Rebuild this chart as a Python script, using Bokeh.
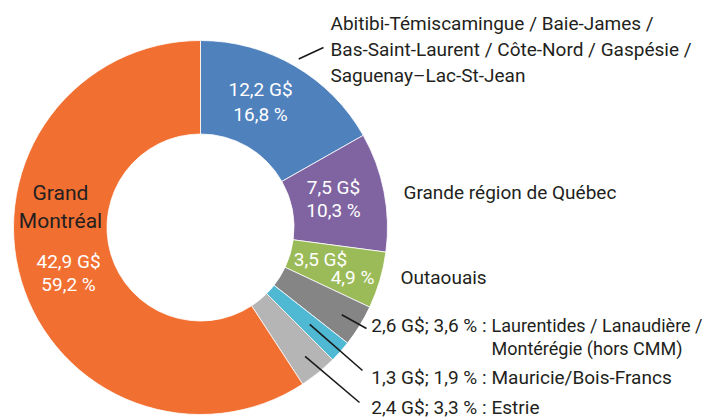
import math
from bokeh.plotting import figure
from bokeh.models import Range1d, ColumnDataSource
from bokeh.core.properties import value
from bokeh.embed import file_html
from bokeh.resources import INLINE

# ---- data ----
regions = [
    "Abitibi-Témiscamingue / Baie-James / Bas-Saint-Laurent / Côte-Nord / Gaspésie / Saguenay–Lac-St-Jean",
    "Grande région de Québec",
    "Outaouais",
    "Laurentides / Lanaudière / Montérégie (hors CMM)",
    "Mauricie/Bois-Francs",
    "Estrie",
    "Grand Montréal",
]
amounts = [12.2, 7.5, 3.5, 2.6, 1.3, 2.4, 42.9]   # G$
shares = [16.8, 10.3, 4.9, 3.6, 1.9, 3.3, 59.2]    # %
colors = ["#4F81BD", "#8064A2", "#9BBB59", "#858585", "#4FB8D3", "#B4B5B4", "#F26F32"]

W, H = 706, 418
CX, CY = 200, H - 227
R_IN, R_OUT = 93.5, 187

FONT = value("Roboto")
DARK = "#231F20"

def fr(v):
    return f"{v:.1f}".replace(".", ",")

p = figure(width=W, height=H, x_range=Range1d(0, W), y_range=Range1d(0, H),
           output_backend="svg", toolbar_location=None, min_border=0)
p.axis.visible = False
p.grid.visible = False
p.outline_line_color = None
p.background_fill_color = "white"

# wedge angles (clockwise from top)
starts, ends, mids = [], [], []
cum = 0.0
total = sum(shares)
for s in shares:
    a0 = math.pi / 2 - 2 * math.pi * cum / total
    a1 = math.pi / 2 - 2 * math.pi * (cum + s) / total
    starts.append(a1)
    ends.append(a0)
    mids.append((a0 + a1) / 2)
    cum += s

src = ColumnDataSource(dict(start=starts, end=ends, color=colors))
p.annular_wedge(x=CX, y=CY, inner_radius=R_IN, outer_radius=R_OUT,
                start_angle="start", end_angle="end", direction="anticlock",
                fill_color="color", line_color="white", line_width=0.8, source=src)

# inner white labels (amount / share), positions in picture px (top-left origin)
in_pos = [
    ((260, 89), (260, 114)),
    ((333, 187), (333, 210)),
    ((320, 259), (352, 277)),
    None, None, None,
    ((68, 261), (68, 284)),
]
for i, pos in enumerate(in_pos):
    if pos is None:
        continue
    (x1, y1), (x2, y2) = pos
    p.text(x=[x1, x2], y=[H - y1, H - y2],
           text=[f"{fr(amounts[i])} G$", f"{fr(shares[i])} %"],
           text_font=FONT, text_font_size="19px", text_color="white",
           text_align="center", text_baseline="middle")

# Grand Montréal name
p.text(x=[60, 60], y=[H - 192, H - 220], text=["Grand", "Montréal"],
       text_font=FONT, text_font_size="21px", text_color=DARK,
       text_align="center", text_baseline="middle")

# outside labels
lab_y = [23, 49, 75]
p.text(x=[330] * 3, y=[H - y for y in lab_y],
       text=["Abitibi-Témiscamingue / Baie-James /",
             "Bas-Saint-Laurent / Côte-Nord / Gaspésie /",
             "Saguenay–Lac-St-Jean"],
       text_font=FONT, text_font_size="19px", text_color=DARK,
       text_align="left", text_baseline="middle")
p.text(x=[403], y=[H - 192], text=[regions[1]], text_font=FONT, text_font_size="19px",
       text_color=DARK, text_align="left", text_baseline="middle")
p.text(x=[400], y=[H - 277], text=[regions[2]], text_font=FONT, text_font_size="19px",
       text_color=DARK, text_align="left", text_baseline="middle")

# small-slice labels: "amount; share :" right-aligned, name left-aligned
small_y = [325, 377, 407]
names = ["Laurentides / Lanaudière /", regions[4], regions[5]]
name_sizes = ["18px", "19px", "19px"]
for k, i in enumerate([3, 4, 5]):
    p.text(x=[486], y=[H - small_y[k]],
           text=[f"{fr(amounts[i])} G$; {fr(shares[i])} % :"],
           text_font=FONT, text_font_size="19px", text_color=DARK,
           text_align="right", text_baseline="middle")
    p.text(x=[491], y=[H - small_y[k]], text=[names[k]],
           text_font=FONT, text_font_size=name_sizes[k], text_color=DARK,
           text_align="left", text_baseline="middle")
p.text(x=[491], y=[H - 348], text=["Montérégie (hors CMM)"], text_font=FONT,
       text_font_size="18px", text_color=DARK, text_align="left", text_baseline="middle")

# leader lines: start at radius along slice mid-angle, end near label
lead = {0: (195, (323, 47)), 3: (166, (366, 328)), 4: (146, (362, 370)), 5: (166, (359, 402))}
x0s, y0s, x1s, y1s = [], [], [], []
for i, (r, (ex, ey)) in lead.items():
    x0s.append(CX + r * math.cos(mids[i]))
    y0s.append(CY + r * math.sin(mids[i]))
    x1s.append(ex)
    y1s.append(H - ey)
p.segment(x0=x0s, y0=y0s, x1=x1s, y1=y1s, line_color="#1a1a1a", line_width=1.6)

open("out.html", "w").write(file_html(p, INLINE))
